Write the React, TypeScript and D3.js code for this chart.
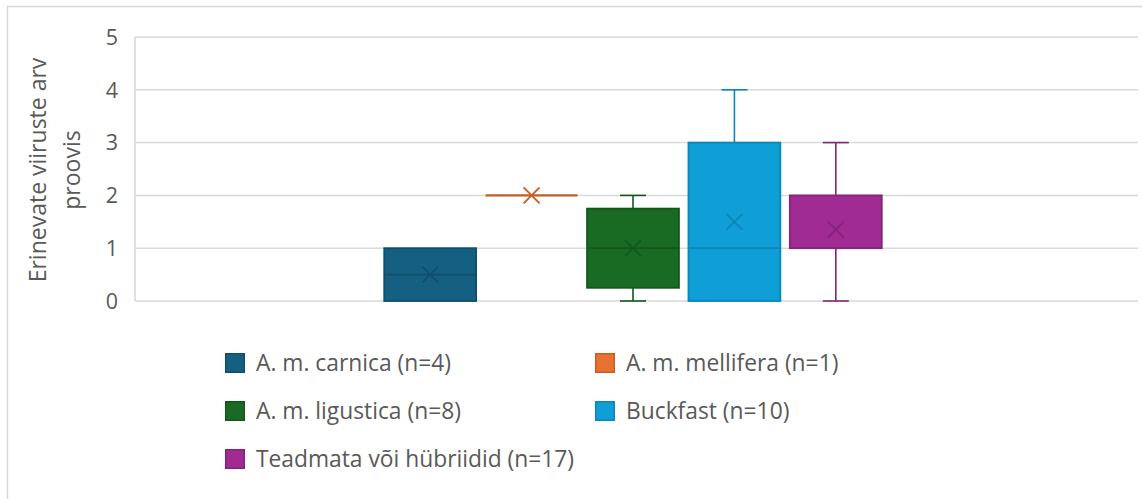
import React from "react";
import * as d3 from "d3";

// Box-and-whisker summary per bee group
const seriesNames = [
  "A. m. carnica (n=4)",
  "A. m. mellifera (n=1)",
  "A. m. ligustica (n=8)",
  "Buckfast (n=10)",
  "Teadmata või hübriidid (n=17)",
];
const fillColors = ["#156082", "#E97132", "#196B24", "#0F9ED5", "#A02B93"];
const lineColors = ["#114e6a", "#c95d22", "#14561d", "#0c86b6", "#86237b"];
const minValues = [0, 2, 0, 0, 0];
const q1Values = [0, 2, 0.25, 0, 1];
const medianValues = [0.5, 2, 1, 1, 1];
const q3Values = [1, 2, 1.75, 3, 2];
const maxValues = [1, 2, 2, 4, 3];
const meanValues = [0.5, 2, 1, 1.5, 1.35];
const yTicks = [0, 1, 2, 3, 4, 5];
const yTitleLines = ["Erinevate viiruste arv", "proovis"];

const W = 1142;
const H = 499;
const FONT = "'Open Sans', 'Noto Sans', sans-serif";
const TEXT = "#595959";
const GRID = "#d9d9d9";

export default function App() {
  const plotLeft = 135;
  const plotRight = 1138;
  const y = d3.scaleLinear().domain([0, 5]).range([301, 37]);

  // single category band holding the five series
  const cat = d3.scaleBand<string>().domain(["all"]).range([132, 1134]).paddingInner(0).paddingOuter(0.507);
  const inner = d3
    .scaleBand<string>()
    .domain(seriesNames)
    .range([cat("all")!, cat("all")! + cat.bandwidth()])
    .paddingInner(0.094)
    .paddingOuter(0);

  const capHalf = 13;
  const xHalf = 8;

  const legendItems = seriesNames.map((name, i) => ({
    name,
    color: fillColors[i],
    stroke: lineColors[i],
    x: i % 2 === 0 ? 225 : 595,
    y: 363 + Math.floor(i / 2) * 48,
  }));

  return (
    <svg
      width={W}
      height={H}
      style={{ position: "absolute", left: 0, top: 0, display: "block", background: "#fff" }}
      fontFamily={FONT}
    >
      <rect x={7.5} y={6.5} width={W + 10} height={H + 10} fill="#fff" stroke={GRID} strokeWidth={1.5} />

      {/* gridlines */}
      {yTicks.map((t) => (
        <line key={t} x1={plotLeft} x2={plotRight} y1={y(t)} y2={y(t)} stroke={GRID} strokeWidth={1.5} />
      ))}
      <line x1={plotLeft} x2={plotLeft} y1={y(5)} y2={y(0)} stroke={GRID} strokeWidth={1.5} />

      {/* tick labels */}
      {yTicks.map((t) => (
        <text key={t} x={118} y={y(t)} dy="0.36em" textAnchor="end" fontSize={21.5} fill={TEXT}>
          {t}
        </text>
      ))}

      {/* axis title */}
      <g transform={`translate(0, ${170})`}>
        {yTitleLines.map((line, i) => (
          <text
            key={i}
            transform={`translate(${38 + i * 34}, 0) rotate(-90)`}
            textAnchor="middle"
            dy="0.35em"
            fontSize={23}
            fill={TEXT}
          >
            {line}
          </text>
        ))}
      </g>

      {/* boxes */}
      {seriesNames.map((name, i) => {
        const x0 = inner(name)!;
        const bw = inner.bandwidth();
        const cx = x0 + bw / 2;
        const stroke = lineColors[i];
        const my = y(meanValues[i]);
        const flat = q3Values[i] === q1Values[i];
        return (
          <g key={name}>
            {maxValues[i] > q3Values[i] && (
              <g stroke={stroke} strokeWidth={1.6}>
                <line x1={cx} x2={cx} y1={y(q3Values[i])} y2={y(maxValues[i])} />
                <line x1={cx - capHalf} x2={cx + capHalf} y1={y(maxValues[i])} y2={y(maxValues[i])} />
              </g>
            )}
            {minValues[i] < q1Values[i] && (
              <g stroke={stroke} strokeWidth={1.6}>
                <line x1={cx} x2={cx} y1={y(q1Values[i])} y2={y(minValues[i])} />
                <line x1={cx - capHalf} x2={cx + capHalf} y1={y(minValues[i])} y2={y(minValues[i])} />
              </g>
            )}
            {flat ? (
              <line x1={x0} x2={x0 + bw} y1={y(q1Values[i])} y2={y(q1Values[i])} stroke={stroke} strokeWidth={2.2} />
            ) : (
              <rect
                x={x0}
                y={y(q3Values[i])}
                width={bw}
                height={y(q1Values[i]) - y(q3Values[i])}
                fill={fillColors[i]}
                stroke={stroke}
                strokeWidth={1.8}
              />
            )}
            {!flat && (
              <line x1={x0} x2={x0 + bw} y1={y(medianValues[i])} y2={y(medianValues[i])} stroke={stroke} strokeWidth={1.8} />
            )}
            <g stroke={stroke} strokeWidth={1.8}>
              <line x1={cx - xHalf} x2={cx + xHalf} y1={my - xHalf} y2={my + xHalf} />
              <line x1={cx - xHalf} x2={cx + xHalf} y1={my + xHalf} y2={my - xHalf} />
            </g>
          </g>
        );
      })}

      {/* legend */}
      {legendItems.map((it) => (
        <g key={it.name}>
          <rect x={it.x + 0.75} y={it.y - 9.25} width={18.5} height={18.5} fill={it.color} stroke={it.stroke} strokeWidth={1.5} />
          <text x={it.x + 31} y={it.y} dy="0.35em" fontSize={22.8} fill={TEXT}>
            {it.name}
          </text>
        </g>
      ))}
    </svg>
  );
}
